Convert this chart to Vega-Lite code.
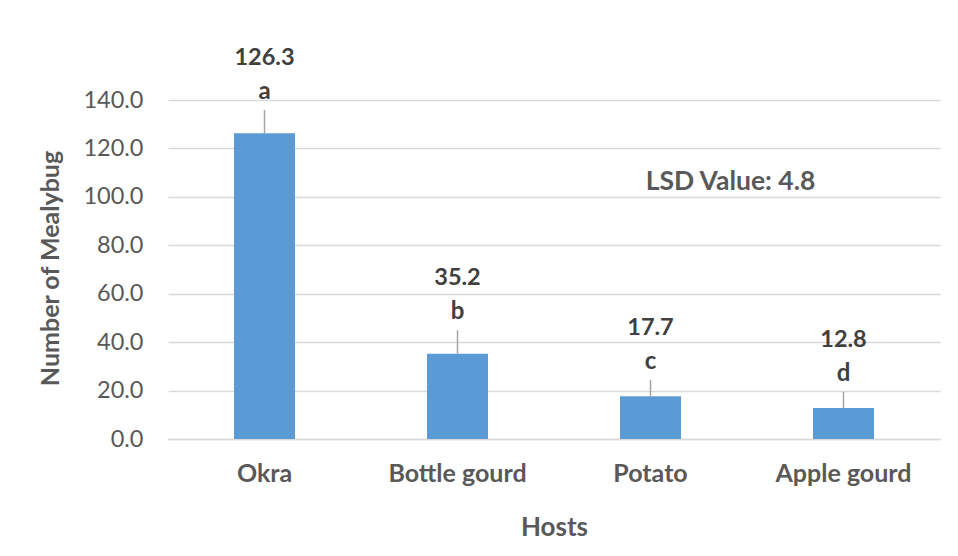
{
  "$schema": "https://vega.github.io/schema/vega-lite/v6.json",
  "width": 772,
  "height": 339,
  "autosize": {"type": "none"},
  "padding": {"left": 168, "top": 100, "right": 18, "bottom": 117},
  "background": "white",
  "config": {"view": {"stroke": null}, "font": "Lato"},
  "data": {
    "values": [
      {"host": "Okra", "mean": 126.3, "upper": 135.9, "group": "a"},
      {"host": "Bottle gourd", "mean": 35.2, "upper": 44.9, "group": "b"},
      {"host": "Potato", "mean": 17.7, "upper": 24.4, "group": "c"},
      {"host": "Apple gourd", "mean": 12.8, "upper": 19.5, "group": "d"}
    ]
  },
  "encoding": {
    "x": {
      "field": "host",
      "type": "nominal",
      "sort": null,
      "scale": {"paddingInner": 0.684, "paddingOuter": 0.342},
      "axis": {
        "title": "Hosts",
        "labelAngle": 0,
        "domain": true,
        "domainColor": "#D9D9D9",
        "domainWidth": 1.3,
        "ticks": false,
        "tickSize": 0,
        "labelPadding": 34,
        "labelBaseline": "middle",
        "labelFontSize": 25,
        "labelFontWeight": "bold",
        "labelColor": "#595959",
        "titleFontSize": 26,
        "titleFontWeight": "bold",
        "titleColor": "#595959",
        "titleY": 88,
        "titleBaseline": "middle"
      }
    }
  },
  "layer": [
    {
      "mark": {"type": "bar", "color": "#5B9BD5"},
      "encoding": {
        "y": {
          "field": "mean",
          "type": "quantitative",
          "scale": {"domain": [0, 140], "nice": false},
          "axis": {
            "title": "Number of Mealybug",
            "values": [0, 20, 40, 60, 80, 100, 120, 140],
            "format": ".1f",
            "grid": true,
            "gridColor": "#D9D9D9",
            "gridWidth": 1.3,
            "domain": false,
            "ticks": false,
            "tickSize": 0,
            "labelPadding": 25,
            "labelFontSize": 23.5,
            "labelColor": "#595959",
            "titleFontSize": 25,
            "titleFontWeight": "bold",
            "titleColor": "#595959",
            "titleX": -118,
            "titleY": 168,
            "titleAngle": -90,
            "titleAlign": "center",
            "titleBaseline": "middle"
          }
        }
      }
    },
    {
      "mark": {"type": "rule", "color": "#A5A5A5", "strokeWidth": 1.5},
      "encoding": {
        "y": {"field": "mean", "type": "quantitative"},
        "y2": {"field": "upper"}
      }
    },
    {
      "mark": {"type": "text", "dy": -18, "baseline": "middle", "fontSize": 24, "fontWeight": "bold", "color": "#404040"},
      "encoding": {
        "y": {"field": "upper", "type": "quantitative"},
        "text": {"field": "group"}
      }
    },
    {
      "mark": {"type": "text", "dy": -52, "baseline": "middle", "fontSize": 23.5, "fontWeight": "bold", "color": "#404040"},
      "encoding": {
        "y": {"field": "upper", "type": "quantitative"},
        "text": {"field": "mean", "type": "quantitative", "format": ".1f"}
      }
    },
    {
      "data": {"values": [{"host": "Potato", "level": 106.2, "note": "LSD Value: 4.8"}]},
      "mark": {"type": "text", "dx": 80, "baseline": "middle", "fontSize": 26.5, "fontWeight": "bold", "color": "#595959"},
      "encoding": {
        "y": {"field": "level", "type": "quantitative"},
        "text": {"field": "note"}
      }
    }
  ]
}
